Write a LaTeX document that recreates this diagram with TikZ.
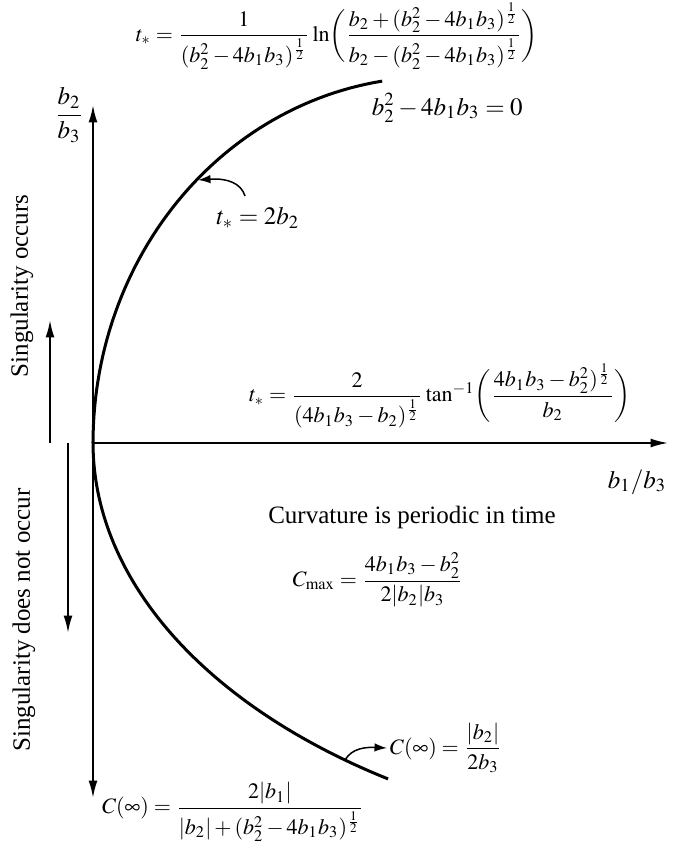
\documentclass[tikz,border=0pt]{standalone}
\usepackage{amsmath}
\usepackage{mathptmx}
\usepackage{fontspec}
\setmainfont{Liberation Serif}
\usetikzlibrary{arrows.meta}
\newcommand{\hlf}{\frac{1}{2}}

\begin{document}
\begin{tikzpicture}[x=0.4pt,y=-0.4pt,
  axis/.style={line width=0.8pt,-{Latex[length=7pt,width=3.6pt]}},
  pointer/.style={line width=0.6pt,-{Latex[length=5pt,width=3.4pt]}},
  formula/.style={font=\fontsize{8.8}{10}\selectfont,inner sep=0pt},
  side/.style={rotate=90,inner sep=0pt}]
\path[use as bounding box] (0,0) rectangle (678,844);
% axes
\coordinate (O) at (93,443);
\coordinate (ytop) at (93,105);
\coordinate (ybot) at (93,798);
\coordinate (xend) at (668,443);
\draw[axis] (O) -- (ytop);
\draw[axis] (O) -- (ybot);
\draw[axis,line width=0.7pt] (O) -- (xend);
\node (ylab) at (69,115) {$\dfrac{b_2}{b_3}$};
\node (xlab) at (637,482) {$b_1/b_3$};
% singular curve (two elliptic arcs meeting at the origin)
\draw[line width=1.2pt]
  plot[domain=81.4:0,samples=60] ({433-340*cos(\x)},{443-366*sin(\x)})
  -- plot[domain=0:56.9,samples=60] ({743-650*cos(\x)},{443+401*sin(\x)});
\coordinate (tstarpt) at (198,180);
\coordinate (tstartail) at (245,196);
\coordinate (cinfpt) at (345,760);
\coordinate (cinfhead) at (387,748);
% labels
\node[formula] (tlog) at (337,36) {$t_{*}=\dfrac{1}{(b_2^2-4b_1b_3)^{\hlf}}\ln\biggl(\dfrac{b_2+(b_2^2-4b_1b_3)^{\hlf}}{b_2-(b_2^2-4b_1b_3)^{\hlf}}\biggr)$};
\node[anchor=west] (parab) at (363,108) {$b_2^2-4b_1b_3=0$};
\node (tdouble) at (258,218) {$t_{*}=2b_2$};
\node[formula] (tatan) at (440,396) {$t_{*}=\dfrac{2}{(4b_1b_3-b_2)^{\hlf}}\tan^{-1}\biggl(\dfrac{4b_1b_3-b_2^2)^{\hlf}}{b_2}\biggr)$};
\node (periodic) at (412,517) {Curvature is periodic in time};
\node[formula] (cmax) at (378,580) {$C_{\max}=\dfrac{4b_1b_3-b_2^2}{2|b_2|b_3}$};
\node[formula,anchor=west] (cinfr) at ([xshift=1pt]cinfhead) {$C(\infty)=\dfrac{|b_2|}{2b_3}$};
\node[formula] (cinfb) at (233,812) {$C(\infty)=\dfrac{2|b_1|}{|b_2|+(b_2^2-4b_1b_3)^{\hlf}}$};
% pointers to the curve
\draw[pointer] (tstartail) .. controls (241,183) and (227,178) .. (tstarpt);
\draw[pointer] (cinfpt) .. controls (352,748) and (366,747) .. (cinfhead);
% regions
\coordinate (upfoot) at (50,443);
\coordinate (uphead) at (50,320);
\coordinate (dnfoot) at (68,443);
\coordinate (dnhead) at (68,633);
\draw[axis] (upfoot) -- (uphead);
\draw[axis] (dnfoot) -- (dnhead);
\node[side] (occurs) at (22,286) {Singularity occurs};
\node[side] (notoccurs) at (24,620) {Singularity does not occur};
\end{tikzpicture}
\end{document}
